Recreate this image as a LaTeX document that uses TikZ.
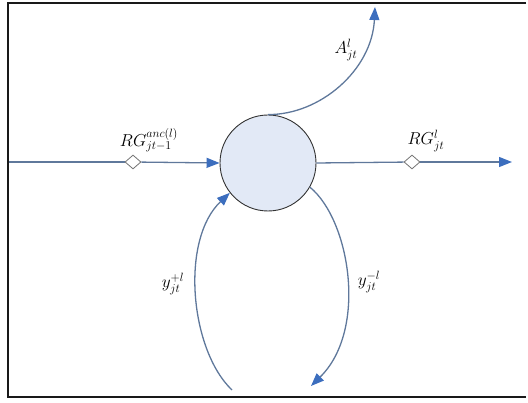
\documentclass[tikz,border=0pt]{standalone}
\usetikzlibrary{arrows.meta,shapes.geometric}
\definecolor{flowline}{RGB}{95,120,155}
\definecolor{tipblue}{RGB}{60,110,190}
\definecolor{nodefill}{RGB}{226,233,246}
\tikzset{
  flow/.style={flowline, line width=1.3pt, -{Triangle[length=13pt,width=10pt,color=tipblue]}},
  plain/.style={flowline, line width=1.3pt},
  marker/.style={diamond, draw=black!55, fill=white, line width=0.8pt, minimum width=16pt, minimum height=14pt, inner sep=0pt},
  lbl/.style={font=\fontsize{17}{19}\selectfont}
}
\begin{document}
\begin{tikzpicture}[x=1pt,y=-1pt]
    \useasboundingbox (0,0) rectangle (528,403);
    \draw[line width=1.8pt, black!90] (526,3) -- (8,3) -- (8,397) -- (526,397);
    % the unit
    \node[circle, draw=black!80, fill=nodefill, line width=0.9pt, minimum size=96pt, inner sep=0pt] (unit) at (268,163) {};
    \coordinate (inflow) at (9,162);
    \coordinate (outflow) at (512,162);
    \coordinate (topend) at (375,7);
    \coordinate (upstart) at (232,390);
    \coordinate (downend) at (311,386);
    \node[marker] (dleft) at (133,162) {};
    \node[marker] (dright) at (412,162) {};
    % connectors
    \draw[plain] (inflow) -- (dleft);
    \draw[flow] (dleft) -- (unit.west);
    \draw[plain] (unit.east) -- (dright);
    \draw[flow] (dright) -- (outflow);
    \draw[flow] (unit.north) .. controls (320,115) and (372,70) .. (topend);
    \draw[flow] (upstart) .. controls (190,350) and (180,240) .. (unit.218);
    \draw[flow] (unit.-30) .. controls (350,220) and (368,330) .. (downend);
    % labels
    \node[lbl] (lblin) at (149,140) {$RG^{anc(l)}_{jt-1}$};
    \node[lbl] (lblout) at (426,141) {$RG^{l}_{jt}$};
    \node[lbl] (lbltop) at (346,50) {$A^{l}_{jt}$};
    \node[lbl] (lblup) at (173,284) {$y^{+l}_{jt}$};
    \node[lbl] (lbldown) at (369,282) {$y^{-l}_{jt}$};
\end{tikzpicture}
\end{document}
